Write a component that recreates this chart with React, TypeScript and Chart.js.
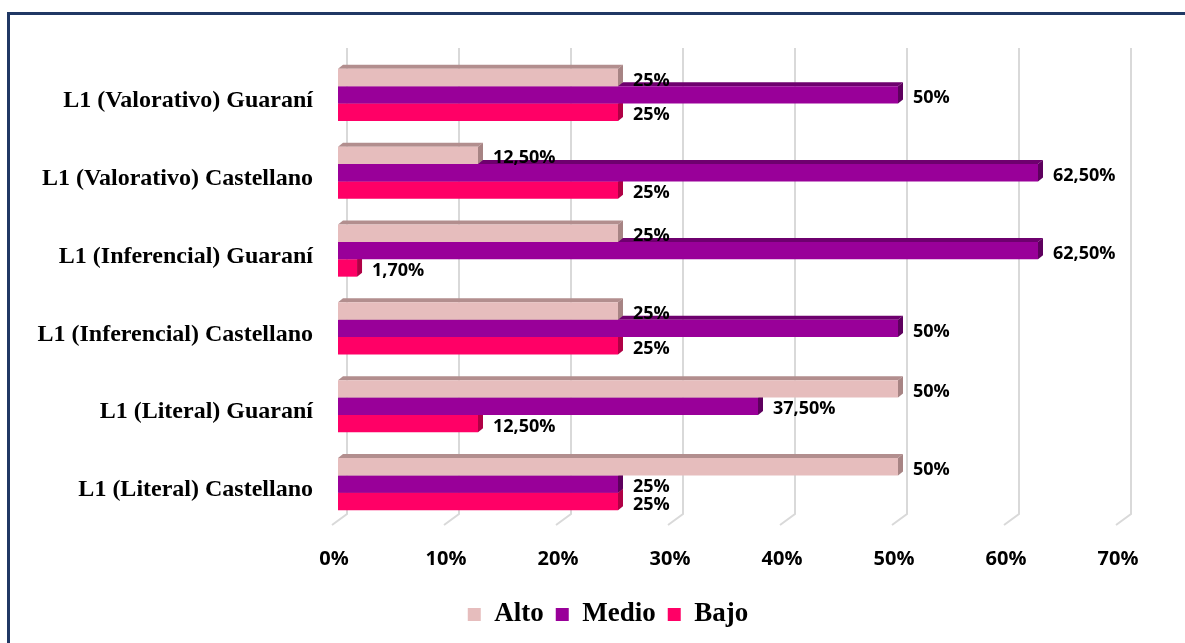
import React, { useEffect, useRef } from "react";
import { Chart, registerables } from "chart.js";

Chart.register(...registerables);

const categories = [
  "L1 (Valorativo) Guaraní",
  "L1 (Valorativo) Castellano",
  "L1 (Inferencial) Guaraní",
  "L1 (Inferencial) Castellano",
  "L1 (Literal) Guaraní",
  "L1 (Literal) Castellano",
];
const alto = [25, 12.5, 25, 25, 50, 50];
const medio = [50, 62.5, 62.5, 50, 37.5, 25];
const bajo = [25, 25, 1.7, 25, 12.5, 25];
const xTicks = [0, 10, 20, 30, 40, 50, 60, 70];

const seriesNames = ["Alto", "Medio", "Bajo"];
const seriesColors = ["#E6BDBD", "#990099", "#FF0066"];
const topFaceColors = ["#B28E8E", "#6E006E", "#C8004F"];
const endFaceColors = ["#A78484", "#5E005E", "#B00045"];

const fmt = (v: number) =>
  Number.isInteger(v) ? `${v}%` : `${v.toFixed(2).replace(".", ",")}%`;

const DEPTH_X = 5;
const DEPTH_Y = 4;
const LEGEND_SHIFT = 47;

const threeDPlugin = {
  id: "threeD",
  afterLayout(chart: any) {
    const l = chart.legend;
    if (l) {
      l.left += LEGEND_SHIFT;
      l.right += LEGEND_SHIFT;
    }
  },
  beforeDatasetsDraw(chart: any) {
    const { ctx, chartArea, scales } = chart;
    const xs = scales.x;
    ctx.save();
    ctx.strokeStyle = "#D9D9D9";
    ctx.lineWidth = 2;
    xTicks.forEach((t) => {
      const px = xs.getPixelForValue(t);
      ctx.beginPath();
      ctx.moveTo(px + 9, chartArea.top - 8);
      ctx.lineTo(px + 9, chartArea.bottom - 9);
      ctx.lineTo(px - 6, chartArea.bottom + 2);
      ctx.stroke();
    });
    for (let d = chart.data.datasets.length - 1; d >= 0; d--) {
      const meta = chart.getDatasetMeta(d);
      meta.data.forEach((bar: any) => {
        const { x, y, base, height } = bar.getProps(["x", "y", "base", "height"], true);
        const top = y - height / 2;
        const bottom = y + height / 2;
        ctx.fillStyle = topFaceColors[d];
        ctx.beginPath();
        ctx.moveTo(base, top);
        ctx.lineTo(base + DEPTH_X, top - DEPTH_Y);
        ctx.lineTo(x + DEPTH_X, top - DEPTH_Y);
        ctx.lineTo(x, top);
        ctx.closePath();
        ctx.fill();
        ctx.fillStyle = endFaceColors[d];
        ctx.beginPath();
        ctx.moveTo(x, top);
        ctx.lineTo(x + DEPTH_X, top - DEPTH_Y);
        ctx.lineTo(x + DEPTH_X, bottom - DEPTH_Y);
        ctx.lineTo(x, bottom);
        ctx.closePath();
        ctx.fill();
      });
    }
    ctx.restore();
  },
  afterDatasetsDraw(chart: any) {
    const { ctx } = chart;
    ctx.save();
    ctx.font = "bold 18px 'Open Sans'";
    ctx.fillStyle = "#000";
    ctx.textAlign = "left";
    ctx.textBaseline = "middle";
    chart.data.datasets.forEach((ds: any, d: number) => {
      const meta = chart.getDatasetMeta(d);
      meta.data.forEach((bar: any, i: number) => {
        const { x, y } = bar.getProps(["x", "y"], true);
        ctx.fillText(fmt(ds.data[i]), x + 15, y + 3);
      });
    });
    ctx.restore();
  },
};

export default function App() {
  const canvasRef = useRef<HTMLCanvasElement | null>(null);

  useEffect(() => {
    if (!canvasRef.current) return;
    const chart = new Chart(canvasRef.current, {
      type: "bar",
      data: {
        labels: categories,
        datasets: [alto, medio, bajo].map((data, i) => ({
          label: seriesNames[i],
          data,
          backgroundColor: seriesColors[i],
          borderWidth: 0,
          categoryPercentage: 0.67,
          barPercentage: 1,
        })),
      },
      options: {
        indexAxis: "y",
        animation: false,
        responsive: false,
        maintainAspectRatio: false,
        layout: { padding: { top: 56, right: 63, bottom: 5, left: 0 } },
        scales: {
          x: {
            min: 0,
            max: 70,
            ticks: {
              stepSize: 10,
              callback: (v: any) => `${v}%`,
              font: { family: "'Open Sans'", weight: "bold", size: 20 },
              color: "#000",
              padding: 24,
              labelOffset: -4,
            },
            grid: { display: false, drawTicks: false },
            border: { display: false },
            afterFit: (s: any) => {
              s.height = 66;
            },
          },
          y: {
            ticks: {
              font: { family: "'Liberation Serif'", weight: "bold", size: 24 },
              color: "#000",
              padding: 25,
              labelOffset: 6,
            },
            grid: { display: false, drawTicks: false },
            border: { display: false },
            afterFit: (s: any) => {
              s.width = 338;
            },
          },
        },
        plugins: {
          legend: {
            position: "bottom",
            labels: {
              font: { family: "'Liberation Serif'", weight: "bold", size: 27 },
              color: "#000",
              boxWidth: 13,
              boxHeight: 13,
              padding: 12,
            },
          },
          tooltip: { enabled: false },
        },
      } as any,
      plugins: [threeDPlugin],
    });
    return () => chart.destroy();
  }, []);

  return (
    <div
      style={{
        position: "fixed",
        left: 0,
        top: 0,
        width: 1185,
        height: 643,
        background: "#fff",
        overflow: "hidden",
      }}
    >
      <canvas ref={canvasRef} width={1185} height={643} style={{ position: "absolute", left: 0, top: 0 }} />
      <div
        style={{
          position: "absolute",
          left: 7,
          top: 12,
          width: 1200,
          height: 700,
          borderLeft: "3px solid #203864",
          borderTop: "3px solid #203864",
          pointerEvents: "none",
        }}
      />
    </div>
  );
}
